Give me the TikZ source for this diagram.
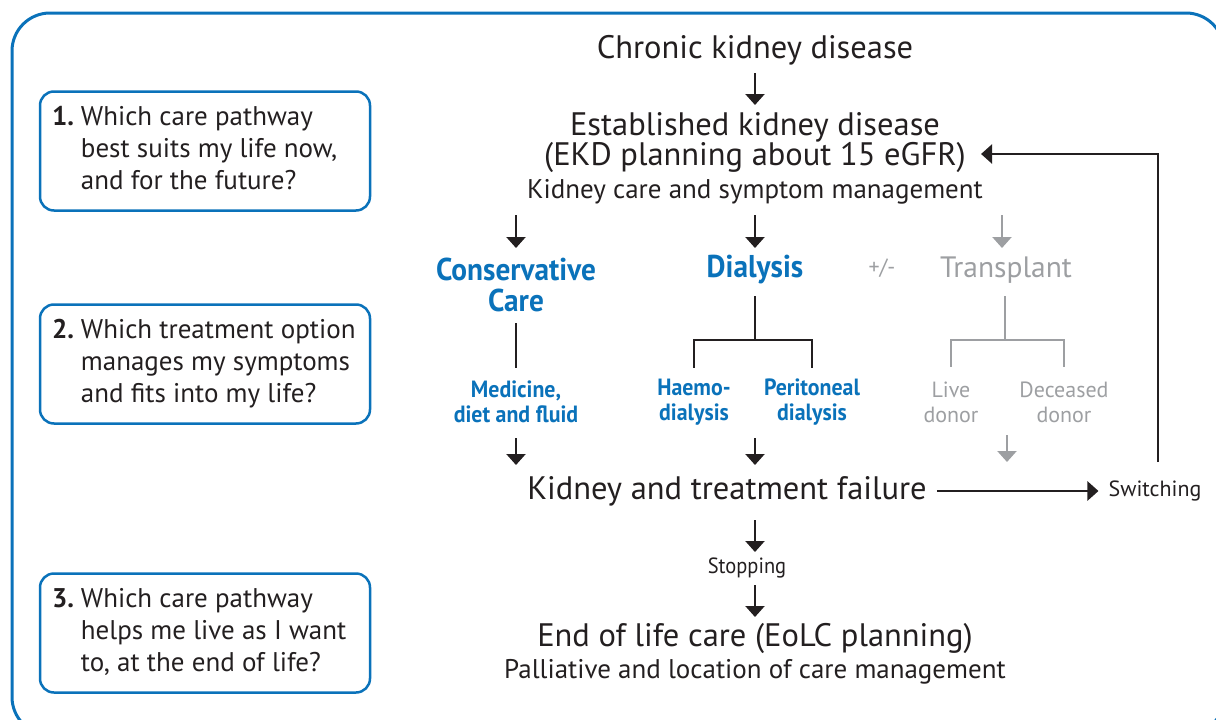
\documentclass[tikz,border=0pt]{standalone}
\usepackage{fontspec}
\setmainfont{PT Sans}
\newfontfamily\narrowfont[FakeStretch=0.93]{PT Sans}
\usetikzlibrary{arrows.meta}
\tikzset{>={Triangle[length=11pt,width=19pt]}}
\definecolor{nhsblue}{HTML}{0A72BA}
\definecolor{ink}{HTML}{231F20}
\definecolor{faded}{HTML}{9D9FA2}
\tikzset{
  big/.style={font=\fontsize{32.5}{34}\selectfont, text=ink, inner sep=0pt},
  mid/.style={font=\fontsize{27}{30}\selectfont, text=ink, inner sep=0pt},
  small/.style={font=\fontsize{22}{24}\selectfont, text=ink, inner sep=0pt},
  option/.style={font=\narrowfont\fontsize{31.5}{31}\selectfont\bfseries, text=nhsblue, align=center, inner sep=0pt},
  suboption/.style={font=\narrowfont\fontsize{23.5}{25}\selectfont\bfseries, text=nhsblue, align=center, inner sep=0pt},
  faint/.style={font=\fontsize{22}{25}\selectfont, text=faded, align=center, inner sep=0pt},
  question/.style={draw=nhsblue, line width=2.5pt, rounded corners=14pt, minimum width=330pt,
    minimum height=119pt, text=ink, font=\fontsize{27}{32}\selectfont},
  flow/.style={draw=ink, line width=2.4pt},
  greyflow/.style={draw=faded, line width=2.4pt},
}
\newcommand{\qtext}[4]{\makebox[306pt][l]{\begin{tabular}{@{}l@{\hspace{7pt}}l@{}}\textbf{#1} & #2\\ & #3\\ & #4\end{tabular}}}
\begin{document}
\begin{tikzpicture}[x=1pt, y=-1pt]
  \useasboundingbox (0,0) rectangle (1216,720);
  % outer frame, partly cut by the page
  \draw[nhsblue, line width=3pt, rounded corners=38pt] (12,13) rectangle (1224,735);

  % questions on the left
  \node[question] (q1) at (205,151) {\qtext{1.}{Which care pathway}{best suits my life now,}{and for the future?}};
  \node[question] (q2) at (205,364) {\qtext{2.}{Which treatment option}{manages my symptoms}{and fits into my life?}};
  \node[question] (q3) at (205,633) {\qtext{3.}{Which care pathway}{helps me live as I want}{to, at the end of life?}};

  % main pathway
  \node[big] (ckd) at (755,50) {Chronic kidney disease};
  \node[big] (ekd) at (755,127) {Established kidney disease};
  \node[big] (ekdplan) at (755,158) {(EKD planning about 15 eGFR)};
  \node[mid] (kcare) at (755,192) {Kidney care and symptom management};

  \node[option] (cons) at (516,285) {Conservative\\Care};
  \node[option] (dial) at (755,270) {Dialysis};
  \node[font=\fontsize{22}{24}\selectfont, text=faded, inner sep=0pt] (pm) at (882,268) {+/-};
  \node[font=\fontsize{29.5}{31}\selectfont, text=faded, inner sep=0pt] (trans) at (1006,270) {Transplant};

  \node[suboption] (med) at (516,402) {Medicine,\\diet and fluid};
  \node[suboption] (haemo) at (694,402) {Haemo-\\dialysis};
  \node[suboption] (perit) at (812,402) {Peritoneal\\dialysis};
  \node[faint] (live) at (951,402) {Live\\donor};
  \node[faint] (dead) at (1064,402) {Deceased\\donor};

  \node[big] (fail) at (727,491) {Kidney and treatment failure};
  \node[small] (switch) at (1155,491) {Switching};
  \node[small, font=\narrowfont\fontsize{22}{24}\selectfont] (stop) at (747,568) {Stopping};
  \node[big] (eolc) at (755,638) {End of life care (EoLC planning)};
  \node[mid] (pall) at (755,672) {Palliative and location of care management};

  % connectors
  \draw[flow, ->] (ckd.center) ++(0,23) -- ([yshift=22pt]ekd.center);
  \draw[flow, ->] (cons.center) ++(0,-70) -- ++(0,33);
  \draw[flow, ->] (dial.center) ++(0,-55) -- ++(0,33);
  \draw[greyflow, ->] (trans.center) ++(-4,-55) -- ++(0,33);
  \draw[flow] (cons.center) ++(0,38) -- ++(0,45);
  \draw[flow] (dial.center) ++(0,26) -- ++(0,44) -| ([yshift=34pt]haemo.center);
  \draw[flow] (dial.center) ++(0,70) -| ([yshift=34pt]perit.center);
  \draw[greyflow] (trans.center) ++(-1,26) -- ++(0,44) -| ([yshift=35pt]live.center);
  \draw[greyflow] (trans.center) ++(-1,70) -| ([yshift=35pt]dead.center);
  \draw[flow, ->] (med.center) ++(0,36) -- ([yshift=26pt]med |- fail.center);
  \draw[flow, ->] (dial |- haemo.center) ++(0,36) -- ([yshift=26pt]dial |- fail.center);
  \draw[greyflow, ->] (trans.center) ++(1,165) coordinate (tx) -- ++(0,27) coordinate (ty);
  \draw[flow, ->, shorten >=10pt] (fail.east) ++(10,0) -- (switch.west);
  \draw[flow, ->, shorten >=15pt] (switch.center) ++(3,-29) -- (1158,154) -- ([yshift=4pt]ekdplan.east);
  \draw[flow, ->] (dial |- fail.center) ++(0,29) coordinate (fs) -- ++(0,32);
  \draw[flow, ->] (dial |- stop.center) ++(0,17) -- ([yshift=21pt]dial |- eolc.center);
\end{tikzpicture}
\end{document}
